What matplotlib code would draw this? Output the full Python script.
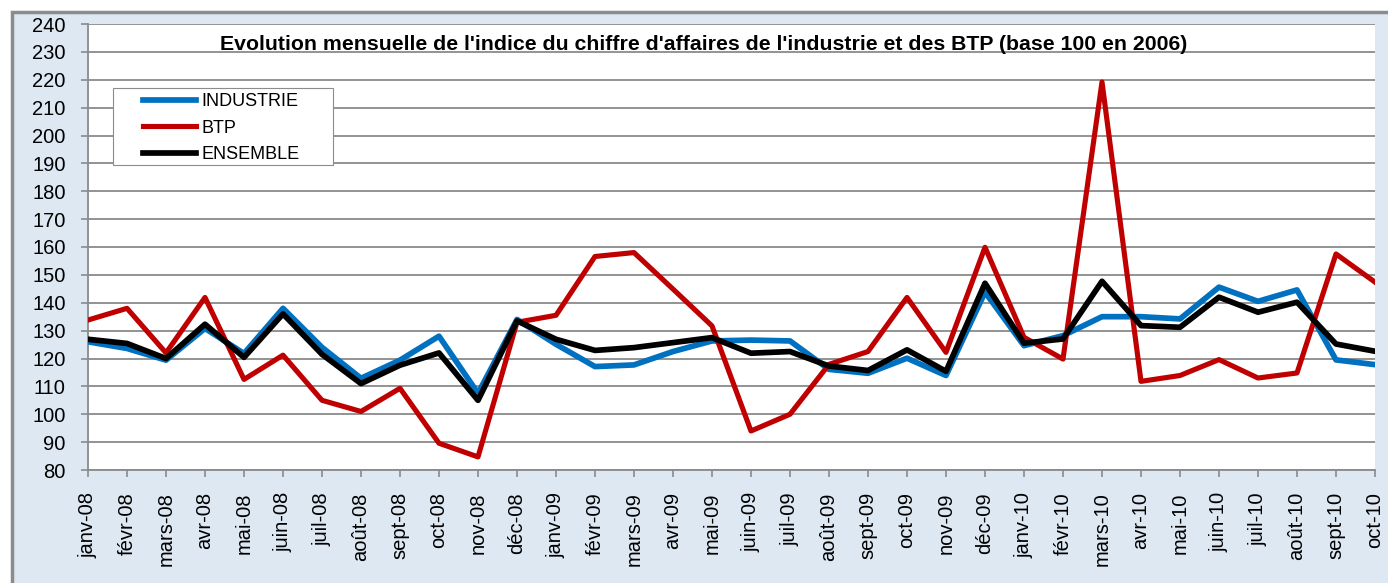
#!/usr/bin/env python

# monthly turnover index, industry vs BTP (base 100 in 2006)

import matplotlib
matplotlib.use('Agg')
import matplotlib.pyplot as plt
from matplotlib.patches import Rectangle
import numpy as np

months = ['janv-08', 'févr-08', 'mars-08', 'avr-08', 'mai-08', 'juin-08',
          'juil-08', 'août-08', 'sept-08', 'oct-08', 'nov-08', 'déc-08',
          'janv-09', 'févr-09', 'mars-09', 'avr-09', 'mai-09', 'juin-09',
          'juil-09', 'août-09', 'sept-09', 'oct-09', 'nov-09', 'déc-09',
          'janv-10', 'févr-10', 'mars-10', 'avr-10', 'mai-10', 'juin-10',
          'juil-10', 'août-10', 'sept-10', 'oct-10']

industrie = [126, 123.6, 119.4, 130.8, 121.8, 138, 124, 112.9, 119.4, 128, 107.5, 134,
             125.1, 117.1, 117.7, 122.5, 126.3, 126.6, 126.3, 116.1, 114.7, 120.1, 113.9, 143.8,
             124.6, 128.2, 135, 135, 134.2, 145.6, 140.5, 144.6, 119.5, 117.8]

btp = [133.8, 138, 122, 141.9, 112.5, 121.2, 105, 101, 109.3, 89.6, 84.7, 133,
       135.5, 156.6, 158, 144.9, 131.7, 94, 100, 117.9, 122.5, 141.9, 122.2, 159.9,
       127.6, 119.8, 219.2, 111.8, 113.9, 119.6, 113, 114.8, 157.5, 147.4]

ensemble = [126.9, 125.4, 120, 132.3, 120.4, 136, 121.5, 111, 117.6, 122, 105, 133.5,
            126.9, 122.9, 123.9, 125.7, 127.5, 121.9, 122.5, 117.3, 115.7, 123.1, 115.4, 147,
            125.5, 127, 147.7, 131.8, 131.2, 142, 136.6, 140.2, 125.2, 122.6]

W, H = 1388, 583
grid_col = '#8a8a8a'
bg_col = '#dde8f3'

plt.rcParams['font.family'] = ['Liberation Sans', 'DejaVu Sans']

fig = plt.figure(figsize=(W / 100, H / 100), dpi=100, facecolor='white')

# light blue chart area with grey frame on top and left
fig.patches.append(Rectangle((12 / W, -0.05), 1.1, (H - 12) / H + 0.05,
                             transform=fig.transFigure, facecolor=bg_col,
                             edgecolor='#8c8c8c', lw=2.5, zorder=-1))

ax = fig.add_axes([88 / W, 1 - 470 / H, (1375 - 88) / W, (470 - 24) / H])
ax.set_facecolor('white')

x = np.arange(len(months))
ax.plot(x, industrie, color='#0070C0', lw=4.1, solid_joinstyle='round', label='INDUSTRIE', zorder=3)
ax.plot(x, btp, color='#C00000', lw=3.7, solid_joinstyle='round', label='BTP', zorder=4)
ax.plot(x, ensemble, color='black', lw=4.1, solid_joinstyle='round', label='ENSEMBLE', zorder=5)

ax.set_xlim(0, len(months) - 1)
ax.set_ylim(80, 240)
ax.set_yticks(np.arange(80, 241, 10))
ax.set_xticks(x)
ax.set_xticklabels(months, rotation=90, fontsize=14.5)
ax.tick_params(axis='y', labelsize=14.5, length=5, width=1.2, color=grid_col, pad=11)
ax.tick_params(axis='x', length=5, width=1.2, color=grid_col, pad=11)
ax.grid(axis='y', color=grid_col, lw=1.3)
ax.set_axisbelow(True)

for side in ['top', 'right']:
    ax.spines[side].set_visible(False)
for side in ['left', 'bottom']:
    ax.spines[side].set_color(grid_col)
    ax.spines[side].set_linewidth(1.3)

fig.text(704 / W, 1 - 45 / H,
         "Evolution mensuelle de l'indice du chiffre d'affaires de l'industrie et des BTP (base 100 en 2006)",
         ha='center', va='center', fontsize=15.3, fontweight='bold')

# legend box drawn by hand, legend itself without frame
fig.patches.append(Rectangle((113 / W, 1 - 165 / H), 220 / W, 77 / H,
                             transform=fig.transFigure, facecolor='white',
                             edgecolor='#8c8c8c', lw=0.8, zorder=4))
handles, labels = ax.get_legend_handles_labels()
leg = fig.legend(handles, labels, loc='upper left', bbox_to_anchor=(138 / W, 1 - 88 / H),
                 frameon=False, fontsize=13,
                 handlelength=2.9, handletextpad=0.3, labelspacing=0.52,
                 borderaxespad=0, borderpad=0.3)
leg.set_zorder(5)

fig.savefig('out.png', dpi=100, facecolor=fig.get_facecolor())
